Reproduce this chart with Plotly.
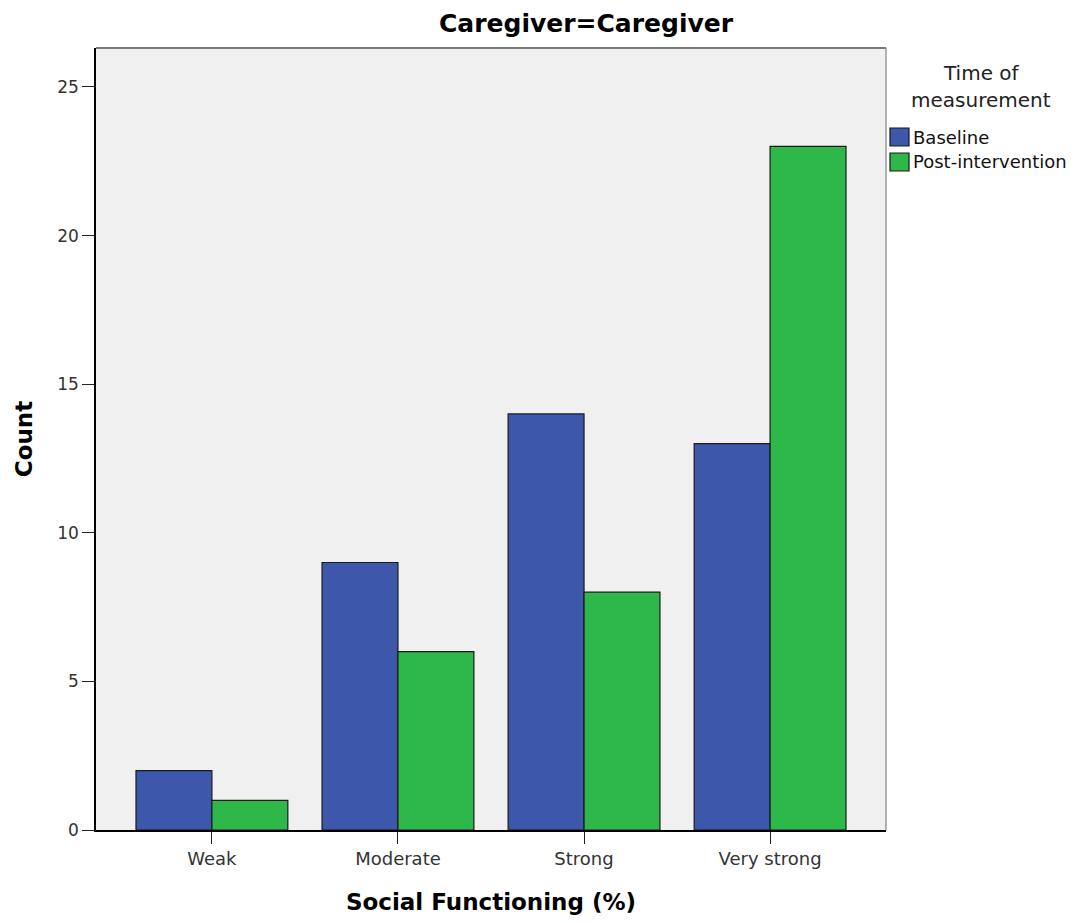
import plotly.graph_objects as go

categories = ["Weak", "Moderate", "Strong", "Very strong"]
baseline = [2, 9, 14, 13]
post_intervention = [1, 6, 8, 23]
y_ticks = [0, 5, 10, 15, 20, 25]
series_names = ["Baseline", "Post-intervention"]
series_colors = ["#3D57AA", "#2EB84A"]

font_family = "DejaVu Sans, Liberation Sans, Arial, sans-serif"

# plot area in screenshot pixels (page has an 8px body offset)
px_left, px_right, px_top, px_bottom = 96, 886, 48, 830


def px_to_paper(x=None, y=None):
    if x is not None:
        return (x - px_left) / (px_right - px_left)
    return (px_bottom - y) / (px_bottom - px_top)


fig = go.Figure()
for name, vals, col in zip(series_names, [baseline, post_intervention], series_colors):
    fig.add_trace(go.Bar(
        x=categories, y=vals, name=name, showlegend=False,
        marker=dict(color=col, line=dict(color="#1a1a1a", width=1.2)),
    ))

# manual legend, drawn like the SPSS one
shapes = [
    dict(type="line", xref="paper", yref="paper", x0=0, x1=1, y0=1, y1=1,
         line=dict(color="#7a7a7a", width=2)),
    dict(type="line", xref="paper", yref="paper", x0=1, x1=1, y0=0, y1=1,
         line=dict(color="#9a9a9a", width=1.5)),
]
annotations = [
    dict(text="Time of", xref="paper", yref="paper", x=px_to_paper(x=981), y=px_to_paper(y=73),
         xanchor="center", yanchor="middle", showarrow=False,
         font=dict(size=20, color="#222222")),
    dict(text="measurement", xref="paper", yref="paper", x=px_to_paper(x=981), y=px_to_paper(y=100),
         xanchor="center", yanchor="middle", showarrow=False,
         font=dict(size=20, color="#222222")),
]
for i, (name, col) in enumerate(zip(series_names, series_colors)):
    top = 128 + i * 25
    shapes.append(dict(type="rect", xref="paper", yref="paper",
                       x0=px_to_paper(x=890), x1=px_to_paper(x=909),
                       y0=px_to_paper(y=top), y1=px_to_paper(y=top + 18),
                       fillcolor=col, line=dict(color="#1a1a1a", width=1.2)))
    annotations.append(dict(text=name, xref="paper", yref="paper",
                            x=px_to_paper(x=911), y=px_to_paper(y=top + 9),
                            xanchor="left", yanchor="middle", showarrow=False,
                            font=dict(size=18, color="#111111")))

annotations.append(dict(text="<b>Caregiver=Caregiver</b>", xref="paper", yref="paper",
                        x=px_to_paper(x=586), y=px_to_paper(y=24),
                        xanchor="center", yanchor="middle", showarrow=False,
                        font=dict(size=25, color="black")))

fig.update_layout(
    width=1067, height=915,
    barmode="group", bargap=0.184, bargroupgap=0,
    plot_bgcolor="#F0F0F0", paper_bgcolor="white",
    margin=dict(l=88, r=189, t=40, b=93, autoexpand=False),
    font=dict(family=font_family, color="#222222"),
    xaxis=dict(
        range=[-0.623, 3.623], showgrid=False, zeroline=False,
        showline=True, linecolor="black", linewidth=1.5,
        ticks="outside", ticklen=12, tickcolor="#222222", tickwidth=1.3,
        tickfont=dict(size=18, color="#333333"),
        title=dict(text="<b>Social Functioning (%)</b>", font=dict(size=23, color="black"), standoff=26),
    ),
    yaxis=dict(
        range=[0, 26.31], tickvals=y_ticks, showgrid=False, zeroline=False,
        showline=True, linecolor="black", linewidth=1.5,
        ticks="outside", ticklen=12, tickcolor="#222222", tickwidth=1.3,
        tickfont=dict(size=17, color="#333333"),
        title=dict(text="<b>Count</b>", font=dict(size=23, color="black"), standoff=18),
    ),
    shapes=shapes,
    annotations=annotations,
)

fig.write_html("out.html")
